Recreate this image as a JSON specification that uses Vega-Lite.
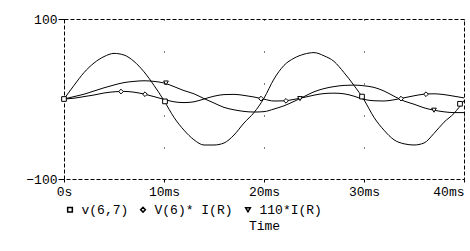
{
  "$schema": "https://vega.github.io/schema/vega-lite/v6.json",
  "autosize": {"type": "none"},
  "padding": {"left": 64, "top": 19, "right": 6, "bottom": 72},
  "width": 400,
  "height": 160,
  "background": "white",
  "config": {
    "view": {"stroke": "black", "strokeWidth": 1, "strokeDash": [4, 2]},
    "axis": {
      "labelFont": "Liberation Mono",
      "labelFontSize": 13,
      "labelColor": "black",
      "titleFont": "Liberation Mono",
      "titleFontSize": 13,
      "titleFontWeight": "normal",
      "titleColor": "black",
      "tickColor": "black",
      "domain": false
    },
    "legend": {
      "labelFont": "Liberation Mono",
      "labelFontSize": 13,
      "labelColor": "black"
    }
  },
  "datasets": {
    "curves": [
      {"t": 0, "a": 0, "b": 0, "c": 0},
      {"t": 1, "a": 17, "b": 1, "c": 3},
      {"t": 2, "a": 33, "b": 3, "c": 6},
      {"t": 3, "a": 45, "b": 5, "c": 10},
      {"t": 4, "a": 53, "b": 7.5, "c": 14},
      {"t": 5, "a": 57, "b": 9, "c": 17.5},
      {"t": 6, "a": 55, "b": 9.5, "c": 20.5},
      {"t": 7, "a": 47, "b": 8.5, "c": 22},
      {"t": 8, "a": 34, "b": 6.2, "c": 22.8},
      {"t": 9, "a": 17, "b": 3, "c": 22},
      {"t": 10, "a": -2, "b": -0.5, "c": 20},
      {"t": 11, "a": -23, "b": -3.5, "c": 15.5},
      {"t": 12, "a": -39, "b": -4.5, "c": 10.5},
      {"t": 13, "a": -51, "b": -3.5, "c": 6.5},
      {"t": 14, "a": -57.5, "b": 0, "c": 0.5},
      {"t": 15, "a": -57.5, "b": 3.5, "c": -5},
      {"t": 16, "a": -55, "b": 5.5, "c": -10.5},
      {"t": 17, "a": -45, "b": 5.8, "c": -13.5},
      {"t": 18, "a": -30, "b": 4.5, "c": -15.5},
      {"t": 19, "a": -17, "b": 2.5, "c": -16.3},
      {"t": 20, "a": 1, "b": -0.2, "c": -15.8},
      {"t": 21, "a": 25, "b": -2.5, "c": -12.5},
      {"t": 22, "a": 42, "b": -2.3, "c": -8.5},
      {"t": 23, "a": 51, "b": -0.5, "c": -3},
      {"t": 24, "a": 56, "b": 2, "c": 3},
      {"t": 25, "a": 58, "b": 4.8, "c": 9},
      {"t": 26, "a": 54, "b": 6.8, "c": 13},
      {"t": 27, "a": 47, "b": 7.3, "c": 15.5},
      {"t": 28, "a": 33, "b": 6.5, "c": 17},
      {"t": 29, "a": 17, "b": 3.5, "c": 17.4},
      {"t": 30, "a": -1, "b": -0.5, "c": 16.5},
      {"t": 31, "a": -23, "b": -2.2, "c": 14.5},
      {"t": 32, "a": -39, "b": -2.5, "c": 10},
      {"t": 33, "a": -51, "b": -1, "c": 3.5},
      {"t": 34, "a": -56, "b": 1.5, "c": -2.5},
      {"t": 35, "a": -57.5, "b": 4, "c": -6.5},
      {"t": 36, "a": -55, "b": 6, "c": -11},
      {"t": 37, "a": -43, "b": 6.5, "c": -14},
      {"t": 38, "a": -29, "b": 5.5, "c": -16},
      {"t": 39, "a": -18, "b": 3.5, "c": -17},
      {"t": 40, "a": -2, "b": 1.4, "c": -17}
    ],
    "markers": [
      {"t": 0, "v": 0, "s": "a"},
      {"t": 10.1, "v": -3, "s": "a"},
      {"t": 29.8, "v": 3, "s": "a"},
      {"t": 39.6, "v": -6, "s": "a"},
      {"t": 5.7, "v": 9.3, "s": "b"},
      {"t": 8.1, "v": 6, "s": "b"},
      {"t": 19.7, "v": 0.5, "s": "b"},
      {"t": 22.2, "v": -2.3, "s": "b"},
      {"t": 33.7, "v": 0.5, "s": "b"},
      {"t": 36.2, "v": 6, "s": "b"},
      {"t": 10.2, "v": 20, "s": "c"},
      {"t": 23.6, "v": 0.5, "s": "c"},
      {"t": 37, "v": -14, "s": "c"}
    ]
  },
  "layer": [
    {
      "data": {"name": "curves"},
      "transform": [{"fold": ["a", "b", "c"], "as": ["s", "v"]}],
      "mark": {"type": "line", "color": "black", "strokeWidth": 1, "interpolate": "monotone"},
      "encoding": {
        "x": {
          "field": "t", "type": "quantitative",
          "scale": {"domain": [0, 40], "nice": false, "zero": false},
          "axis": {
            "values": [0, 10, 20, 30, 40],
            "title": "Time",
            "tickSize": 3,
            "labelPadding": 3,
            "titlePadding": 21,
            "labelFlush": false,
            "labelBound": false,
            "labelExpr": "datum.value == 0 ? '0s' : datum.value + 'ms'",
            "labelAlign": {"condition": {"test": "datum.value == 40", "value": "right"}, "value": "center"},
            "grid": true,
            "gridColor": "black",
            "gridDash": [1, 31],
            "gridWidth": 1,
            "gridOpacity": 1
          }
        },
        "y": {
          "field": "v", "type": "quantitative",
          "scale": {"domain": [-100, 100], "nice": false, "zero": false},
          "axis": {
            "values": [-100, 100],
            "title": null,
            "tickSize": 6,
            "labelPadding": 1,
            "grid": false
          }
        },
        "detail": {"field": "s", "type": "nominal"}
      }
    },
    {
      "data": {"name": "markers"},
      "mark": {"type": "point", "filled": true, "fill": "white", "stroke": "black", "strokeWidth": 1, "opacity": 1, "size": 22},
      "encoding": {
        "x": {"field": "t", "type": "quantitative"},
        "y": {"field": "v", "type": "quantitative"},
        "shape": {
          "field": "s", "type": "nominal",
          "scale": {"domain": ["a", "b", "c"], "range": ["square", "diamond", "triangle-down"]},
          "legend": {
            "orient": "none",
            "legendX": -0.5,
            "legendY": 184,
            "direction": "horizontal",
            "title": null,
            "padding": 0,
            "symbolSize": 22,
            "labelOffset": 5,
            "columnPadding": 8,
            "labelExpr": "datum.label == 'a' ? 'v(6,7)' : datum.label == 'b' ? 'V(6)* I(R)' : '110*I(R)'",
            "encode": {
              "symbols": {
                "update": {
                  "stroke": {"value": "black"},
                  "strokeWidth": {"value": 1},
                  "fill": {"value": "white"},
                  "opacity": {"value": 1},
                  "fillOpacity": {"value": 1},
                  "strokeOpacity": {"value": 1}
                }
              }
            }
          }
        }
      }
    }
  ]
}
